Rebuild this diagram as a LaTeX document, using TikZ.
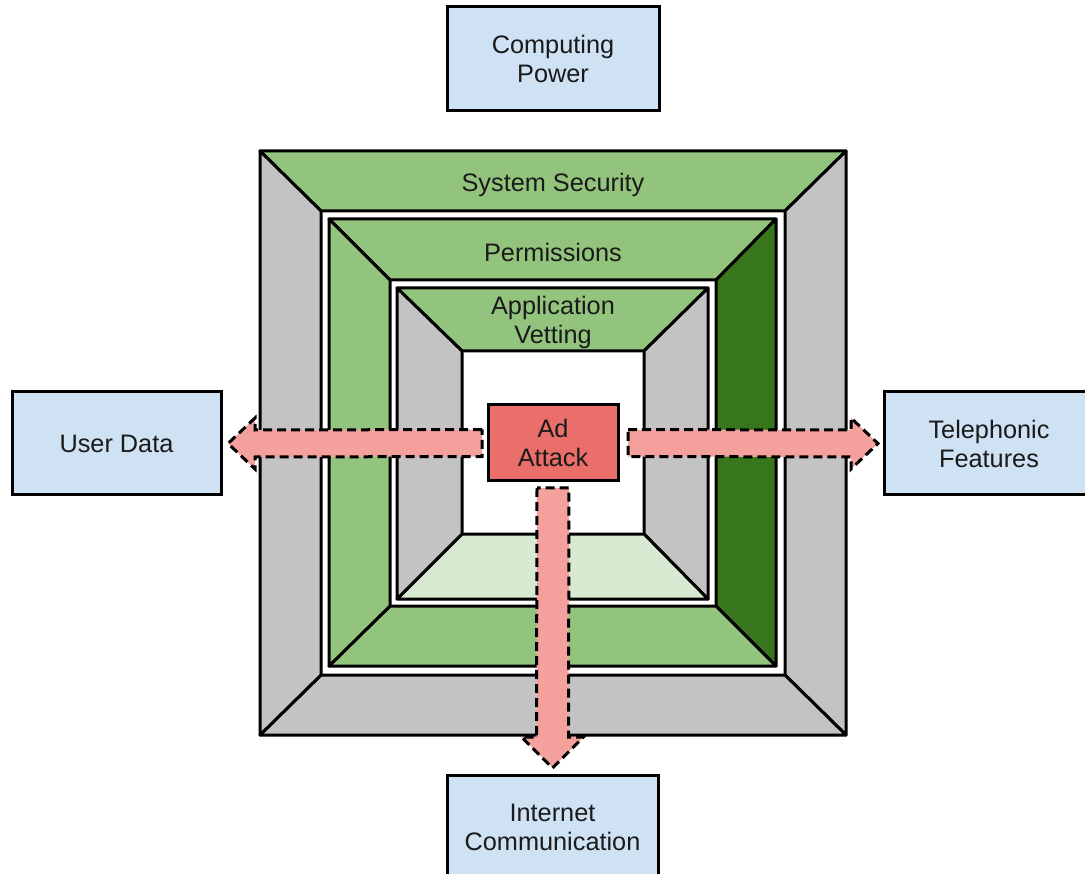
\documentclass[tikz,border=0pt]{standalone}
\usepackage{fontspec}
\setmainfont{Liberation Sans}
\usetikzlibrary{calc}

\definecolor{facegray}{HTML}{C3C3C3}
\definecolor{facegreen}{HTML}{93C47D}
\definecolor{darkgreen}{HTML}{38761D}
\definecolor{palegreen}{HTML}{D9EAD3}
\definecolor{boxblue}{HTML}{CFE2F3}
\definecolor{attackred}{HTML}{EA6E6A}
\definecolor{arrowpink}{HTML}{F4A09D}
\definecolor{inktext}{HTML}{1A1A1A}

\tikzset{
  face/.style={draw=black, line width=3pt, line join=round},
  assetbox/.style={draw=black, fill=boxblue, line width=3pt, outer sep=0pt,
    align=center, text=inktext, font=\fontsize{25.3}{29}\selectfont},
  attackbox/.style={draw=black, fill=attackred, line width=3pt, outer sep=0pt,
    align=center, text=inktext, font=\fontsize{25.3}{29}\selectfont,
    minimum width=130pt, minimum height=76pt},
  layerlabel/.style={align=center, text=inktext, font=\fontsize{25.3}{29}\selectfont},
  blockarrow/.style={draw=black, fill=arrowpink, line width=3pt,
    dash pattern=on 9pt off 5pt}
}

\begin{document}
\begin{tikzpicture}[x=1pt, y=-1pt]
\useasboundingbox (0,0) rectangle (1085,874);
\clip (0,0) rectangle (1085,874);

% ---- outer layer: System Security ----
\coordinate (a1) at (260,151); \coordinate (b1) at (846,151);
\coordinate (c1) at (846,735); \coordinate (d1) at (260,735);
\coordinate (e1) at (321,211); \coordinate (f1) at (785,211);
\coordinate (g1) at (785,675); \coordinate (h1) at (321,675);
\filldraw[face, fill=facegreen] (a1) -- (b1) -- (f1) -- (e1) -- cycle;
\filldraw[face, fill=facegray]  (b1) -- (c1) -- (g1) -- (f1) -- cycle;
\filldraw[face, fill=facegray]  (c1) -- (d1) -- (h1) -- (g1) -- cycle;
\filldraw[face, fill=facegray]  (d1) -- (a1) -- (e1) -- (h1) -- cycle;

% ---- middle layer: Permissions ----
\coordinate (a2) at (329,219); \coordinate (b2) at (776,219);
\coordinate (c2) at (776,666); \coordinate (d2) at (329,666);
\coordinate (e2) at (390,280); \coordinate (f2) at (716,280);
\coordinate (g2) at (716,606); \coordinate (h2) at (390,606);
\filldraw[face, fill=facegreen] (a2) -- (b2) -- (f2) -- (e2) -- cycle;
\filldraw[face, fill=darkgreen] (b2) -- (c2) -- (g2) -- (f2) -- cycle;
\filldraw[face, fill=facegreen] (c2) -- (d2) -- (h2) -- (g2) -- cycle;
\filldraw[face, fill=facegreen] (d2) -- (a2) -- (e2) -- (h2) -- cycle;

% ---- inner layer: Application Vetting ----
\coordinate (a3) at (397,288); \coordinate (b3) at (708,288);
\coordinate (c3) at (708,599); \coordinate (d3) at (397,599);
\coordinate (e3) at (462,351); \coordinate (f3) at (644,351);
\coordinate (g3) at (644,534); \coordinate (h3) at (462,534);
\filldraw[face, fill=facegreen] (a3) -- (b3) -- (f3) -- (e3) -- cycle;
\filldraw[face, fill=facegray]  (b3) -- (c3) -- (g3) -- (f3) -- cycle;
\filldraw[face, fill=palegreen] (c3) -- (d3) -- (h3) -- (g3) -- cycle;
\filldraw[face, fill=facegray]  (d3) -- (a3) -- (e3) -- (h3) -- cycle;

% ---- layer labels ----
\node[layerlabel] (sys)  at (553,185) {System Security};
\node[layerlabel] (perm) at (553,252) {Permissions};
\node[layerlabel] (vet)  at (553,322) {Application\\Vetting};

% ---- assets and the attack ----
\node[assetbox, minimum width=212pt, minimum height=104pt] (cp) at (553,59) {Computing\\Power};
\node[assetbox, minimum width=209pt, minimum height=103pt] (ud) at (116.5,443.5) {User Data};
\node[assetbox, minimum width=210pt, minimum height=103pt] (tf) at (989,443.5) {Telephonic\\Features};
\node[assetbox, minimum width=211pt, minimum height=104pt] (ic) at (552.5,827) {Internet\\Communication};
\node[attackbox] (ad) at (553,443) {Ad\\Attack};

% ---- block arrows from the attack to the assets ----
\coordinate (ls) at ($(ad.west)+(-6,0)$);
\coordinate (lt) at ($(ud.east)+(7,0)$);
\draw[blockarrow] ($(ls)+(0,-13.5)$) -- ($(lt)+(27,-13.5)$) -- ($(lt)+(27,-25.5)$)
  -- (lt) -- ($(lt)+(27,25.5)$) -- ($(lt)+(27,13.5)$) -- ($(ls)+(0,13.5)$) -- cycle;

\coordinate (rs) at ($(ad.east)+(10,0)$);
\coordinate (rt) at ($(tf.west)+(-6,0)$);
\draw[blockarrow] ($(rs)+(0,-13.5)$) -- ($(rt)+(-27,-13.5)$) -- ($(rt)+(-27,-25.5)$)
  -- (rt) -- ($(rt)+(-27,25.5)$) -- ($(rt)+(-27,13.5)$) -- ($(rs)+(0,13.5)$) -- cycle;

\coordinate (ds) at ($(ad.south)+(0,7)$);
\coordinate (dt) at ($(ic.north)+(0,-7)$);
\draw[blockarrow] ($(ds)+(-16,0)$) -- ($(dt)+(-16,-31)$) -- ($(dt)+(-31,-31)$)
  -- (dt) -- ($(dt)+(31,-31)$) -- ($(dt)+(16,-31)$) -- ($(ds)+(16,0)$) -- cycle;
\end{tikzpicture}
\end{document}
